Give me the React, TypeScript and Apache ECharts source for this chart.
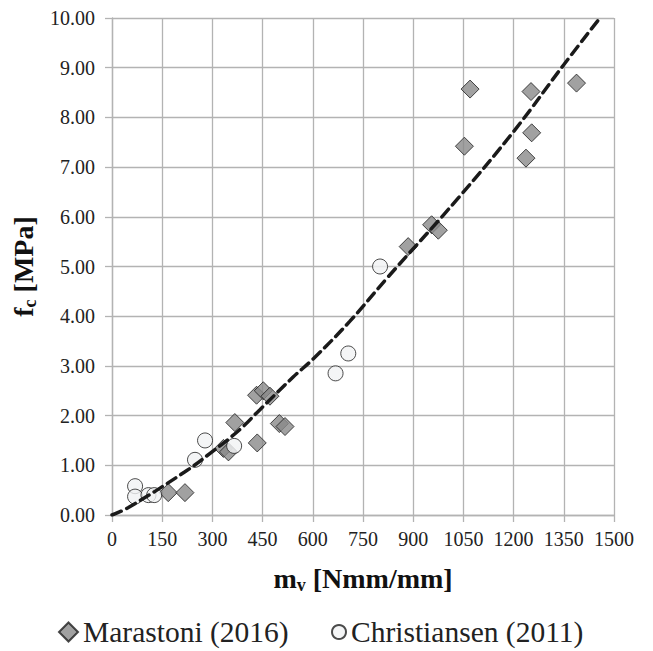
import React, { useEffect, useRef } from "react";
import * as echarts from "echarts";

const marastoni: [number, number][] = [
  [168, 0.45], [218, 0.45], [333, 1.34], [348, 1.27], [367, 1.86], [434, 1.45],
  [432, 2.41], [452, 2.5], [472, 2.39], [500, 1.84], [517, 1.78], [885, 5.4],
  [955, 5.84], [975, 5.73], [1053, 7.42], [1070, 8.57], [1237, 7.18], [1252, 8.52],
  [1254, 7.69], [1388, 8.69],
];
const christiansen: [number, number][] = [
  [69, 0.58], [69, 0.37], [109, 0.4], [126, 0.4], [248, 1.11], [278, 1.5],
  [365, 1.39], [668, 2.85], [706, 3.25], [801, 5.0],
];
const trend: [number, number][] = [
  [0, 0], [49, 0.15], [218, 0.87], [293, 1.24], [382, 1.72], [442, 2.12],
  [542, 2.78], [601, 3.14], [711, 3.9], [821, 4.76], [1035, 6.38], [1204, 7.75],
  [1350, 9.06], [1458, 10.0],
];
const xTicks = { min: 0, max: 1500, interval: 150 };
const yTicks = { min: 0, max: 10, interval: 1 };
const seriesNames = ["Marastoni (2016)", "Christiansen (2011)"];

const FONT = "'Liberation Serif', 'Times New Roman', serif";

export default function App() {
  const ref = useRef<HTMLDivElement>(null);
  useEffect(() => {
    if (!ref.current) return;
    const chart = echarts.init(ref.current, null, { renderer: "svg" });
    const grid = "#b3b3b3";
    const richTitle = {
      b: { fontFamily: FONT, fontSize: 28, fontWeight: "bold", color: "#111" },
      s: { fontFamily: FONT, fontSize: 18, fontWeight: "bold", color: "#111", verticalAlign: "bottom", padding: [14, 0, 0, 0] },
    };
    const richLabel = { a: { fontFamily: FONT, fontSize: 20, color: "#222" } };
    const richLegend = { a: { fontFamily: FONT, fontSize: 29.5, color: "#222" } };
    const legendBase = {
      top: 612,
      itemGap: 0,
      formatter: (n: string) => `{a|${n}}`,
      textStyle: { fontFamily: FONT, fontSize: 29.5, color: "#222", rich: richLegend },
    };
    chart.setOption({
      animation: false,
      backgroundColor: "#ffffff",
      textStyle: { fontFamily: FONT },
      grid: { left: 112, right: 39, top: 18, bottom: 136 },
      legend: [
        { ...legendBase, left: 53, itemWidth: 19, itemHeight: 19, data: [seriesNames[0]] },
        { ...legendBase, left: 326, itemWidth: 14, itemHeight: 14, data: [seriesNames[1]] },
      ],
      xAxis: {
        type: "value",
        min: xTicks.min,
        max: xTicks.max,
        interval: xTicks.interval,
        name: "{b|m}{s|v}{b| [Nmm/mm]}",
        nameLocation: "middle",
        nameGap: 47,
        nameTextStyle: { rich: richTitle },
        axisLine: { show: true, lineStyle: { color: grid, width: 1.3 } },
        axisTick: { show: true, length: 7, lineStyle: { color: grid, width: 1.3 } },
        axisLabel: {
          margin: 14,
          hideOverlap: false,
          showMaxLabel: true,
          formatter: (v: number) => `{a|${v}}`,
          rich: richLabel,
        },
        splitLine: { show: true, lineStyle: { color: grid, width: 1.3 } },
      },
      yAxis: {
        type: "value",
        min: yTicks.min,
        max: yTicks.max,
        interval: yTicks.interval,
        name: "{b|f}{s|c}{b| [MPa]}",
        nameLocation: "middle",
        nameGap: 61,
        nameRotate: 90,
        nameTextStyle: { rich: richTitle },
        axisLine: { show: true, lineStyle: { color: grid, width: 1.3 } },
        axisTick: { show: true, length: 7, lineStyle: { color: grid, width: 1.3 } },
        axisLabel: {
          margin: 17,
          formatter: (v: number) => `{a|${v.toFixed(2)}}`,
          rich: richLabel,
        },
        splitLine: { show: true, lineStyle: { color: grid, width: 1.3 } },
      },
      series: [
        {
          name: seriesNames[0],
          type: "scatter",
          symbol: "diamond",
          symbolSize: 18,
          data: marastoni,
          itemStyle: { color: "#8a8a8a", borderColor: "#1e1e1e", borderWidth: 1 },
          z: 3,
        },
        {
          name: seriesNames[1],
          type: "scatter",
          symbol: "circle",
          symbolSize: 15,
          data: christiansen,
          itemStyle: { color: "#f1f2f4", borderColor: "#1e1e1e", borderWidth: 1 },
          z: 4,
        },
        {
          name: "trend",
          type: "line",
          data: trend,
          smooth: 0.4,
          showSymbol: false,
          symbol: "none",
          clip: true,
          lineStyle: { color: "#1a1a1a", width: 3.5, type: [10, 6], cap: "round" },
          z: 5,
        },
      ],
    });
    return () => chart.dispose();
  }, []);
  return (
    <div
      ref={ref}
      style={{ position: "fixed", left: 0, top: 0, width: 653, height: 651 }}
    />
  );
}
